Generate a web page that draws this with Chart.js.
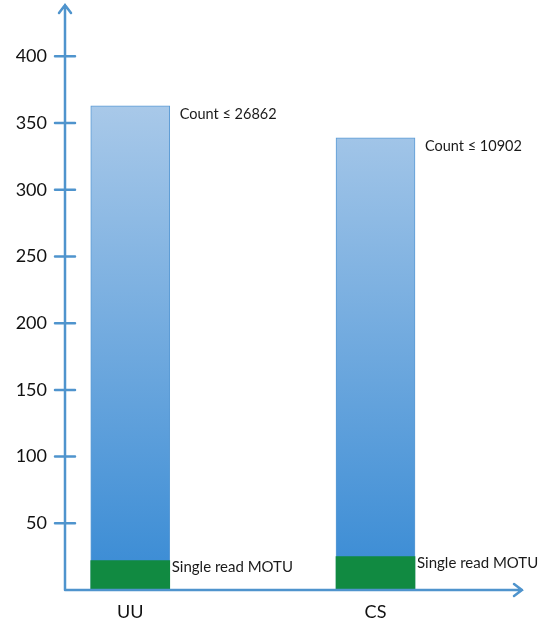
<!DOCTYPE html>
<html lang="en">
<head>
<meta charset="UTF-8">
<title>MOTU counts</title>
<script src="https://cdn.jsdelivr.net/npm/chart.js"></script>
<style>
  html,body{margin:0;padding:0;background:#fff}
  #wrap{width:541px;height:622px;position:relative}
</style>
</head>
<body>
<div id="wrap"><canvas id="chart"></canvas></div>
<script>
// ---- data ----
const categories  = ['UU', 'CS'];
const totalMOTU   = [363, 339];
const singleRead  = [22, 25];
const countLabels = ['Count \u2264 26862', 'Count \u2264 10902'];
const singleLabel = 'Single read MOTU';
const yTicks      = [50, 100, 150, 200, 250, 300, 350, 400];

// layout (where each category sits on the x axis, 0..10)
const xPos = [1.45, 6.9];

const AXIS = '#4f94cd';
const FONT = 'Lato, "Open Sans", sans-serif';

// axes drawn by hand: arrows + tick marks crossing the line
const axisPlugin = {
  id: 'axes',
  afterDraw(chart){
    const {ctx, chartArea: a, scales: {y}} = chart;
    ctx.save();
    ctx.strokeStyle = AXIS;
    ctx.lineWidth = 2.5;
    ctx.lineCap = 'round';
    ctx.beginPath();
    ctx.moveTo(a.left, a.bottom); ctx.lineTo(a.left, 5);
    ctx.moveTo(a.left, a.bottom); ctx.lineTo(522, a.bottom);
    // arrow heads
    ctx.moveTo(a.left - 6, 13); ctx.lineTo(a.left, 5); ctx.lineTo(a.left + 6, 13);
    ctx.moveTo(514, a.bottom - 6); ctx.lineTo(522, a.bottom); ctx.lineTo(514, a.bottom + 6);
    yTicks.forEach(v => {
      const py = y.getPixelForValue(v);
      ctx.moveTo(a.left - 10, py); ctx.lineTo(a.left + 10, py);
    });
    ctx.stroke();

    // annotations next to the bars
    const meta = chart.getDatasetMeta(1);
    const metaS = chart.getDatasetMeta(0);
    ctx.fillStyle = '#1a1a1a';
    ctx.textBaseline = 'middle';
    meta.data.forEach((bar, i) => {
      const right = bar.x + bar.width / 2;
      ctx.font = '14.5px ' + FONT;
      ctx.fillText(countLabels[i], right + 10, bar.y + 9);
      const sb = metaS.data[i];
      ctx.font = '15px ' + FONT;
      ctx.fillText(singleLabel, right + 2, sb.y + 7);
    });
    ctx.restore();
  }
};

function blueGradient(context){
  const {ctx, chartArea} = context.chart;
  if(!chartArea) return '#7fb0e0';
  const y = context.chart.scales.y;
  const g = ctx.createLinearGradient(0, y.getPixelForValue(365), 0, chartArea.bottom);
  g.addColorStop(0, '#a9c9e9');
  g.addColorStop(1, '#378ad4');
  return g;
}

new Chart(document.getElementById('chart'), {
  type: 'bar',
  data: {
    datasets: [
      {
        label: 'Single read MOTU',
        data: categories.map((c, i) => ({x: xPos[i], y: singleRead[i]})),
        backgroundColor: '#118a41',
        borderWidth: 0,
        barThickness: 79,
        grouped: false
      },
      {
        label: 'MOTU',
        data: categories.map((c, i) => ({x: xPos[i], y: totalMOTU[i]})),
        backgroundColor: blueGradient,
        borderColor: '#5b9bd5',
        borderWidth: 1,
        borderSkipped: 'bottom',
        barThickness: 79,
        grouped: false
      }
    ]
  },
  options: {
    responsive: true,
    maintainAspectRatio: false,
    animation: false,
    layout: {padding: {top: 3, right: 26, bottom: 0, left: 0}},
    plugins: {legend: {display: false}, tooltip: {enabled: false}},
    scales: {
      x: {
        type: 'linear',
        offset: false,
        min: 0, max: 10,
        grid: {display: false, drawTicks: false},
        border: {display: false},
        afterBuildTicks: s => { s.ticks = xPos.map(v => ({value: v})); },
        afterFit: s => { s.height = 32; s.paddingLeft = 0; s.paddingRight = 0; },
        ticks: {
          autoSkip: false, maxRotation: 0, padding: 11,
          color: '#111', font: {family: FONT, size: 18},
          callback: v => categories[xPos.indexOf(v)]
        }
      },
      y: {
        min: 0, max: 440,
        grid: {display: false, drawTicks: false},
        border: {display: false},
        afterBuildTicks: s => { s.ticks = yTicks.map(v => ({value: v})); },
        afterFit: s => { s.width = 65; s.paddingTop = 0; s.paddingBottom = 0; },
        ticks: {
          padding: 18,
          color: '#111', font: {family: FONT, size: 18}
        }
      }
    }
  },
  plugins: [axisPlugin]
});
</script>
</body>
</html>
